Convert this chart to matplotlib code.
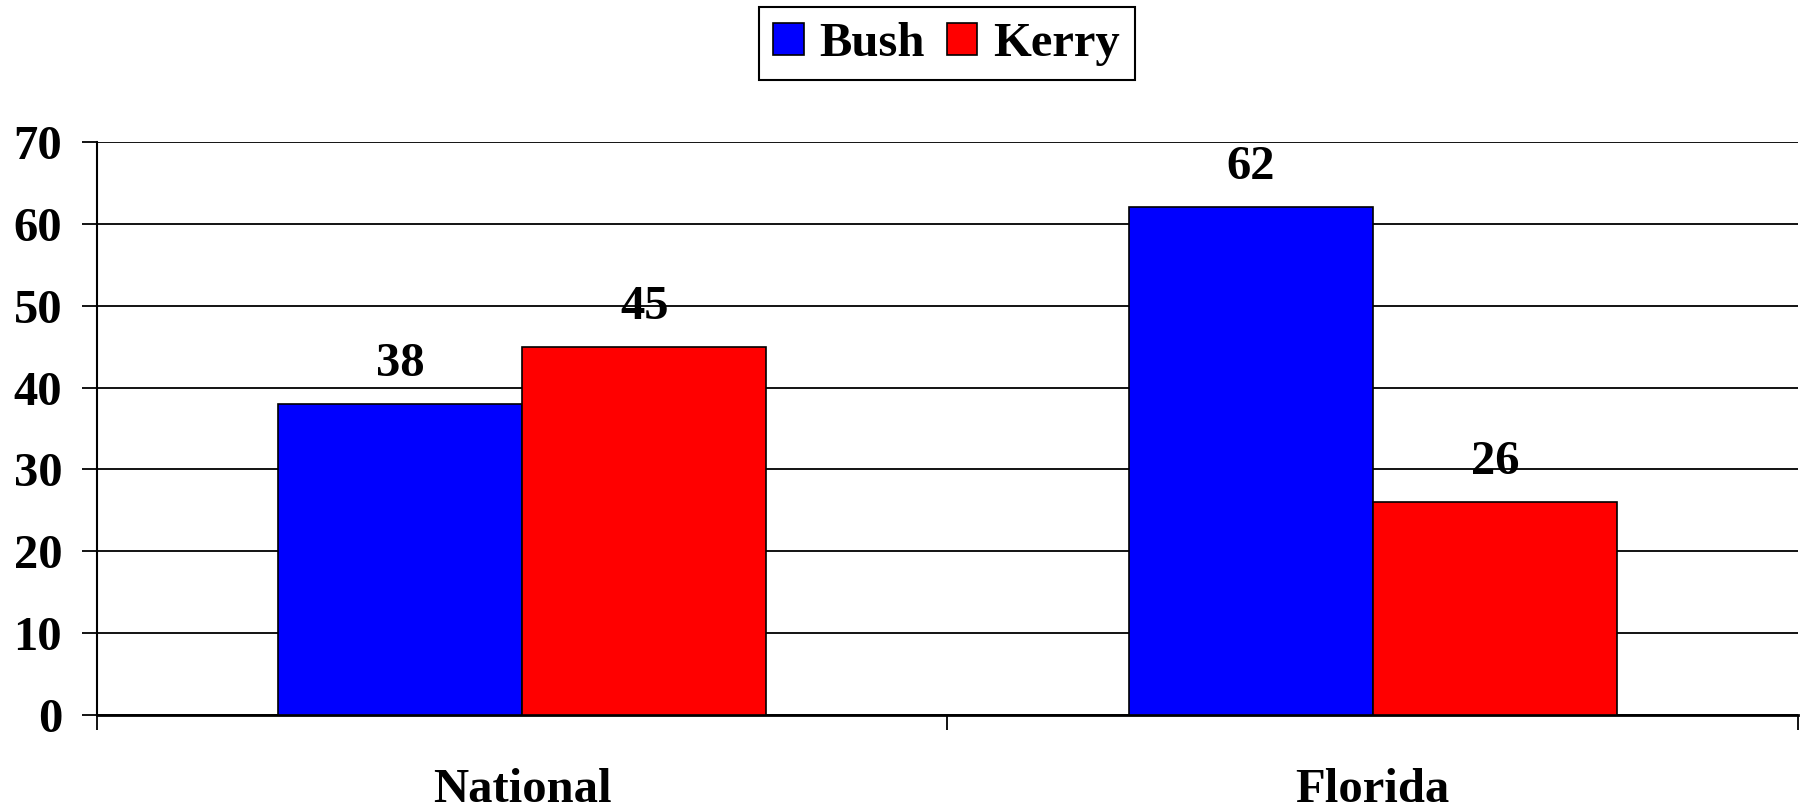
import matplotlib.pyplot as plt
import numpy as np

categories = ["National", "Florida"]
series = ["Bush", "Kerry"]
bush = [38, 62]
kerry = [45, 26]
colors = ["#0000FF", "#FF0000"]

plt.rcParams["font.family"] = ["Liberation Serif", "DejaVu Serif"]
plt.rcParams["font.weight"] = "bold"

fs = 35

fig = plt.figure(figsize=(18.05, 8.10), dpi=100)
ax = fig.add_axes([0.0537, 0.1173, 0.9424, 0.7074])

x = np.arange(len(categories))
w = 0.287
for i, (vals, c, name) in enumerate(zip([bush, kerry], colors, series)):
    b = ax.bar(x + (i - 0.5) * w, vals, w, color=c, edgecolor="black",
               linewidth=1.2, label=name, zorder=3)
    ax.bar_label(b, padding=13, fontsize=fs, fontweight="bold")

ax.set_ylim(0, 70)
ax.set_xlim(-0.5, 1.5)
ax.set_yticks(range(0, 71, 10))
ax.yaxis.grid(True, color="black", linewidth=1.3, zorder=0)
ax.set_axisbelow(True)

ax.set_xticks(x, categories)
ax.set_xticks([-0.5, 0.5, 1.5], minor=True)
ax.tick_params(axis="x", which="major", length=0, pad=38, labelsize=fs)
ax.tick_params(axis="x", which="minor", length=11, width=1.3, direction="out")
ax.tick_params(axis="y", length=11, width=1.3, pad=14, labelsize=fs)

for s in ["top", "right"]:
    ax.spines[s].set_visible(False)
ax.spines["left"].set_linewidth(1.5)
ax.spines["bottom"].set_linewidth(2)

leg = fig.legend(loc="upper center", bbox_to_anchor=(0.5245, 0.991), ncol=2,
                 fontsize=fs, fancybox=False, edgecolor="black", framealpha=1,
                 handlelength=0.62, handleheight=0.62, handletextpad=0.33,
                 columnspacing=0.45, borderpad=0.3, borderaxespad=0)
leg.get_frame().set_linewidth(1.5)

fig.savefig("out.png", dpi=100)
